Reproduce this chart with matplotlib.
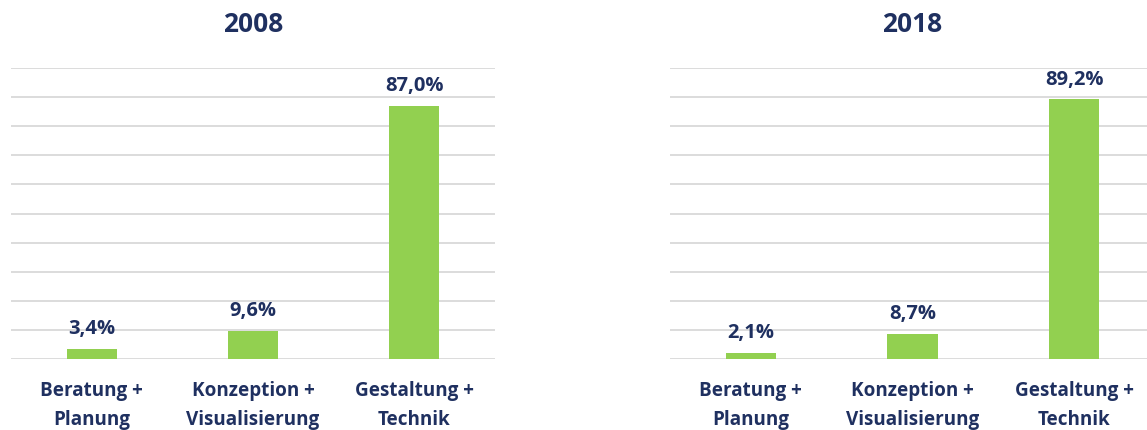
import matplotlib.pyplot as plt

categories = ["Beratung +\nPlanung", "Konzeption +\nVisualisierung", "Gestaltung +\nTechnik"]
years = ["2008", "2018"]
values_2008 = [3.4, 9.6, 87.0]
values_2018 = [2.1, 8.7, 89.2]
labels_2008 = ["3,4%", "9,6%", "87,0%"]
labels_2018 = ["2,1%", "8,7%", "89,2%"]

navy = "#1F3060"
green = "#92D050"
grid_col = "#D9D9D9"

plt.rcParams['font.family'] = ['Open Sans', 'DejaVu Sans']

fig = plt.figure(figsize=(11.47, 4.30), dpi=100)

W, H = 1147, 430
# axes placement in pixels: left, bottom, width, height
boxes = [(11, 71, 484, 291), (670, 71, 485, 291)]

for box, year, vals, labs in zip(boxes, years,
                                 [values_2008, values_2018],
                                 [labels_2008, labels_2018]):
    x0, y0, w, h = box
    ax = fig.add_axes([x0 / W, y0 / H, w / W, h / H])
    x = range(len(categories))
    ax.bar(x, vals, width=0.31, color=green, zorder=3)
    ax.set_xlim(-0.5, 2.5)
    ax.set_ylim(0, 100)
    ax.set_yticks(range(0, 101, 10))
    ax.yaxis.grid(True, color=grid_col, lw=1.3, zorder=0)
    ax.tick_params(axis='y', left=False, labelleft=False)
    ax.tick_params(axis='x', bottom=False, pad=12)
    ax.set_xticks(list(x))
    ax.set_xticklabels(categories, fontsize=13.6, fontweight='bold',
                       color=navy, linespacing=1.6)
    for s in ax.spines.values():
        s.set_visible(False)
    for xi, v, t in zip(x, vals, labs):
        ax.annotate(t, (xi, v), xytext=(0, 7), textcoords='offset points',
                    ha='center', va='bottom', fontsize=14.5,
                    fontweight='bold', color=navy)
    fig.text((x0 + w / 2) / W, 1 - 25 / H, year, ha='center', va='center',
             fontsize=19, fontweight='bold', color=navy)

fig.savefig("out.png", dpi=100)
